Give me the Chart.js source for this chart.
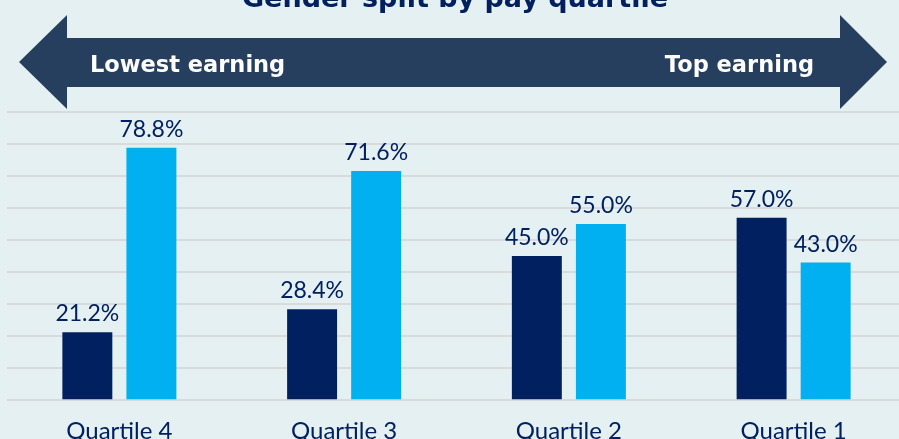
<!DOCTYPE html>
<html>
<head>
<meta charset="utf-8">
<script src="https://cdn.jsdelivr.net/npm/chart.js@4"></script>
<style>
  html, body { margin: 0; padding: 0; background: #e5f0f2; overflow: hidden; }
  #wrap { width: 899px; height: 439px; overflow: hidden; }
</style>
</head>
<body>
<div id="wrap"><canvas id="quartileChart" width="913" height="479"></canvas></div>
<script>
// data
const quartiles = ['Quartile 4', 'Quartile 3', 'Quartile 2', 'Quartile 1'];
const menShare = [21.2, 28.4, 45.0, 57.0];
const womenShare = [78.8, 71.6, 55.0, 43.0];
const chartTitle = 'Gender split by pay quartile';
const lowLabel = 'Lowest earning';
const topLabel = 'Top earning';

const navy = '#002060';
const sky = '#00b0f0';

// title + double arrow banner
const bannerPlugin = {
  id: 'banner',
  beforeDraw(chart) {
    const ctx = chart.ctx;
    ctx.save();
    ctx.fillStyle = navy;
    ctx.font = 'bold 27px "DejaVu Sans"';
    ctx.textAlign = 'center';
    ctx.textBaseline = 'alphabetic';
    ctx.fillText(chartTitle, 455, 7);

    ctx.fillStyle = '#263f5f';
    ctx.beginPath();
    ctx.moveTo(19, 62);
    ctx.lineTo(67, 15);
    ctx.lineTo(67, 38);
    ctx.lineTo(840, 38);
    ctx.lineTo(840, 15);
    ctx.lineTo(887, 62);
    ctx.lineTo(840, 109);
    ctx.lineTo(840, 87);
    ctx.lineTo(67, 87);
    ctx.lineTo(67, 109);
    ctx.closePath();
    ctx.fill();

    ctx.fillStyle = '#ffffff';
    ctx.font = 'bold 22.5px "DejaVu Sans"';
    ctx.textAlign = 'left';
    ctx.fillText(lowLabel, 90, 72);
    ctx.textAlign = 'right';
    ctx.fillText(topLabel, 814, 72);
    ctx.restore();
  }
};

// value labels above bars
const valuePlugin = {
  id: 'values',
  afterDatasetsDraw(chart) {
    const ctx = chart.ctx;
    ctx.save();
    ctx.font = '23px Lato';
    ctx.fillStyle = navy;
    ctx.textAlign = 'center';
    ctx.textBaseline = 'alphabetic';
    chart.data.datasets.forEach((ds, i) => {
      chart.getDatasetMeta(i).data.forEach((bar, j) => {
        ctx.fillText(ds.data[j].toFixed(1) + '%', bar.x, bar.y - 11);
      });
    });
    ctx.restore();
  }
};

const quartileChart = new Chart(document.getElementById('quartileChart'), {
  type: 'bar',
  data: {
    labels: quartiles,
    datasets: [
      { label: 'Men', data: menShare, backgroundColor: navy, categoryPercentage: 0.57, barPercentage: 0.78 },
      { label: 'Women', data: womenShare, backgroundColor: sky, categoryPercentage: 0.57, barPercentage: 0.78 }
    ]
  },
  options: {
    responsive: false,
    animation: false,
    layout: { padding: { top: 112, left: 7, right: 7, bottom: 16 } },
    plugins: { legend: { display: false }, tooltip: { enabled: false } },
    scales: {
      x: {
        grid: { display: false, drawTicks: false },
        border: { display: false },
        ticks: { color: navy, font: { family: 'Lato', size: 24 }, padding: 17 }
      },
      y: {
        min: 0,
        max: 90,
        ticks: { display: false, stepSize: 10 },
        grid: { color: '#d8dadb', lineWidth: 2, drawTicks: false },
        border: { display: false }
      }
    }
  },
  plugins: [bannerPlugin, valuePlugin]
});
</script>
</body>
</html>
